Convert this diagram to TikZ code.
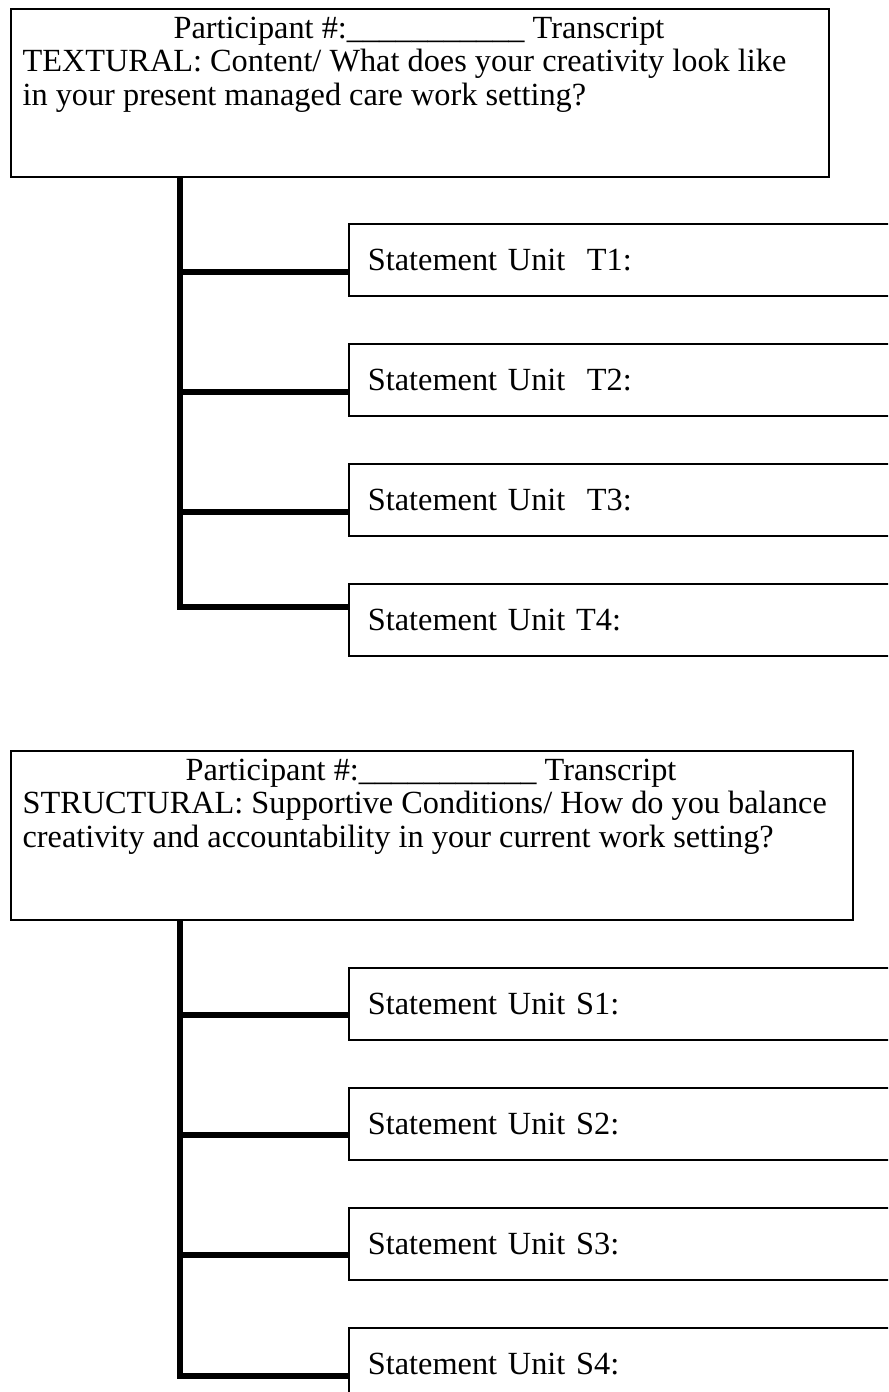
\documentclass[tikz,border=0pt]{standalone}
\usepackage{fontspec}
\setmainfont{Liberation Serif}

\begin{document}
\begin{tikzpicture}[x=0.3713pt, y=-0.3713pt,
  font=\fontsize{12pt}{12.44pt}\selectfont,
  headbox/.style={draw, line width=0.7pt, anchor=north west, inner sep=0pt},
  unitbox/.style={draw, line width=0.8pt, anchor=north west, minimum height=26.7pt,
    text width=191pt, align=left, inner xsep=7pt, inner ysep=0pt},
  branch/.style={line width=2.2pt},
  title/.style={anchor=base, inner sep=0pt},
  quest/.style={anchor=north west, align=left, inner sep=0pt}]

\clip (0,0) rectangle (888,1392);

% textural
\node [headbox, minimum width=303.7pt, minimum height=62.4pt] (head-t) at (10,8) {};
\node [title] (title-t) at (419,38)
  {Participant \#:\_\_\_\_\_\_\_\_\_\_\_ Transcript};
\node [quest] (quest-t) at (22,49)
  {TEXTURAL: Content/ What does your creativity look like\\
   in your present managed care work setting?};

\coordinate (trunk-t) at (180,176);
\foreach \l/\dy [count=\k] in {Unit\ \ T1/49, Unit\ \ T2/49, Unit\ \ T3/49, Unit T4/24}
{
  \node [unitbox] (unit-t\k) at (348,223+120*\k-120) {Statement \l:};
  \draw [branch] (unit-t\k.north west) ++(0,\dy) -| (trunk-t);
}

% structural
\node [headbox, minimum width=312.6pt, minimum height=62.75pt] (head-s) at (10,750) {};
\node [title] (title-s) at (431,780)
  {Participant \#:\_\_\_\_\_\_\_\_\_\_\_ Transcript};
\node [quest] (quest-s) at (22,791)
  {STRUCTURAL: Supportive Conditions/ How do you balance\\
   creativity and accountability in your current work setting?};

\coordinate (trunk-s) at (180,919);
\foreach \l/\dy [count=\k] in {S1/48, S2/48, S3/48, S4/49}
{
  \node [unitbox] (unit-s\k) at (348,967+120*\k-120) {Statement Unit \l:};
  \draw [branch] (unit-s\k.north west) ++(0,\dy) -| (trunk-s);
}

\end{tikzpicture}
\end{document}
